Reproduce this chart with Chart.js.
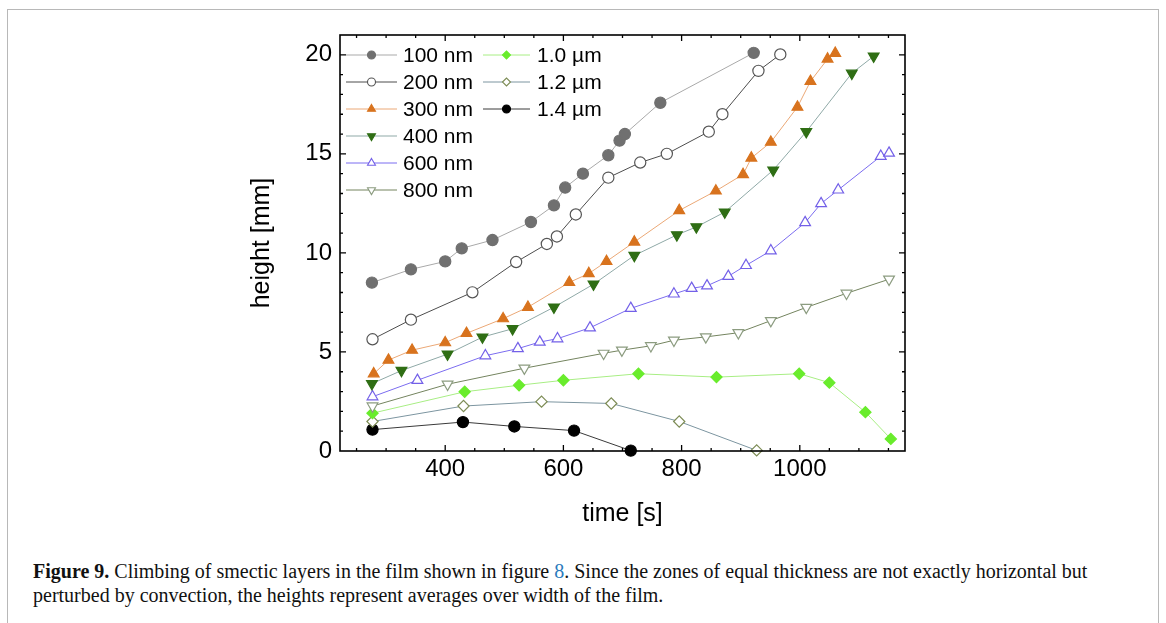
<!DOCTYPE html>
<html>
<head>
<meta charset="utf-8">
<script src="https://cdn.jsdelivr.net/npm/chart.js@4.4.1/dist/chart.umd.min.js"></script>
<style>
  html, body { margin: 0; padding: 0; background: #fff; }
  body { width: 1166px; height: 623px; position: relative; overflow: hidden; }
  #frame { position: absolute; left: 7px; top: 9px; width: 1150px; height: 640px; border: 1px solid #b8b8b8; }
  #chart { position: absolute; left: 0; top: 0; }
  #caption { position: absolute; left: 33px; top: 559px; font-family: "Liberation Serif", "DejaVu Serif", serif;
             font-size: 20px; line-height: 24px; color: #111; white-space: nowrap; }
  #caption b { font-weight: bold; }
  #caption .ref { color: #2b7bbd; }
</style>
</head>
<body>
<div id="frame"></div>
<canvas id="chart" width="1166" height="540"></canvas>
<div id="caption"><b>Figure 9.</b> Climbing of smectic layers in the film shown in figure <span class="ref">8</span>. Since the zones of equal thickness are not exactly horizontal but<br>perturbed by convection, the heights represent averages over width of the film.</div>
<script>
// values
const xTicks = [400, 600, 800, 1000];
const yTicks = [0, 5, 10, 15, 20];
const seriesNames = ['100 nm', '200 nm', '300 nm', '400 nm', '600 nm', '800 nm', '1.0 µm', '1.2 µm', '1.4 µm'];

const t100 = [276, 342, 400, 428, 480, 545, 584, 603, 633, 676, 695, 704, 764, 922];
const h100 = [8.5, 9.17, 9.57, 10.23, 10.65, 11.56, 12.4, 13.3, 14.0, 14.93, 15.67, 16.0, 17.58, 20.1];
const t200 = [277, 342, 446, 520, 572, 589, 621, 676, 730, 775, 846, 869, 930, 967];
const h200 = [5.64, 6.63, 8.01, 9.54, 10.45, 10.83, 11.94, 13.8, 14.56, 15.0, 16.12, 17.0, 19.19, 20.02];
const t300 = [279, 304, 344, 400, 436, 498, 540, 610, 643, 673, 720, 796, 858, 904, 918, 951, 996, 1018, 1047, 1060];
const h300 = [3.9, 4.59, 5.09, 5.47, 5.94, 6.68, 7.26, 8.51, 8.96, 9.57, 10.55, 12.14, 13.13, 13.96, 14.79, 15.59, 17.36, 18.66, 19.79, 20.08];
const t400 = [276, 326, 404, 463, 514, 584, 651, 720, 792, 825, 873, 955, 1011, 1088, 1125];
const h400 = [3.4, 4.06, 4.89, 5.75, 6.17, 7.26, 8.42, 9.87, 10.91, 11.31, 12.06, 14.18, 16.12, 19.07, 19.93];
const t600 = [277, 353, 468, 523, 560, 590, 645, 714, 787, 817, 843, 879, 909, 951, 1009, 1036, 1065, 1137, 1151];
const h600 = [2.74, 3.57, 4.81, 5.17, 5.5, 5.67, 6.22, 7.2, 7.93, 8.21, 8.34, 8.82, 9.37, 10.11, 11.53, 12.49, 13.18, 14.88, 15.04];
const t800 = [277, 404, 534, 668, 699, 748, 787, 841, 896, 951, 1011, 1079, 1151];
const h800 = [2.27, 3.37, 4.18, 4.93, 5.09, 5.31, 5.59, 5.76, 5.97, 6.58, 7.25, 7.96, 8.67];
const t1000 = [277, 433, 525, 600, 727, 859, 999, 1050, 1111, 1154];
const h1000 = [1.91, 2.99, 3.32, 3.57, 3.9, 3.73, 3.9, 3.45, 1.96, 0.61];
const t1200 = [277, 431, 563, 681, 796, 927];
const h1200 = [1.49, 2.27, 2.49, 2.4, 1.49, 0.03];
const t1400 = [277, 430, 517, 618, 714];
const h1400 = [1.08, 1.46, 1.24, 1.03, 0.02];

const pts = (t, h) => t.map((x, i) => ({x: x, y: h[i]}));

// line colour, marker edge, marker fill, style, rotation
function series(label, data, line, edge, fill, style, rot) {
    return {
        label: label,
        data: data,
        showLine: true,
        borderColor: line,
        borderWidth: 1,
        pointStyle: style,
        pointRotation: rot || 0,
        pointRadius: style === 'triangle' ? 6.2 : 5.6,
        pointHoverRadius: 5.6,
        pointBackgroundColor: fill,
        pointBorderColor: edge,
        pointBorderWidth: 1.2,
        clip: false
    };
}

const datasets = [
    series(seriesNames[0], pts(t100, h100), '#a9a9a9', '#707070', '#707070', 'circle'),
    series(seriesNames[1], pts(t200, h200), '#4d4d4d', '#555555', '#ffffff', 'circle'),
    series(seriesNames[2], pts(t300, h300), '#eba876', '#d8731e', '#d8731e', 'triangle'),
    series(seriesNames[3], pts(t400, h400), '#8fa9a7', '#2f6e14', '#2f6e14', 'triangle', 180),
    series(seriesNames[4], pts(t600, h600), '#7b6cf0', '#7360e8', '#ffffff', 'triangle'),
    series(seriesNames[5], pts(t800, h800), '#74845f', '#8c9c80', '#ffffff', 'triangle', 180),
    series(seriesNames[6], pts(t1000, h1000), '#a8ee84', '#69ec2c', '#69ec2c', 'rectRot'),
    series(seriesNames[7], pts(t1200, h1200), '#7c95a0', '#7d8c55', '#ffffff', 'rectRot'),
    series(seriesNames[8], pts(t1400, h1400), '#3a3a3a', '#000000', '#000000', 'circle')
];

// frame with inward major/minor ticks on all four sides
const framePlugin = {
    id: 'frame',
    afterDatasetsDraw(chart) {
        const {ctx, chartArea: a, scales: {x, y}} = chart;
        ctx.save();
        ctx.strokeStyle = '#000';
        ctx.lineWidth = 1.6;
        ctx.strokeRect(a.left, a.top, a.right - a.left, a.bottom - a.top);
        ctx.lineWidth = 1.3;
        ctx.beginPath();
        for (let v = 250; v <= 1150; v += 50) {
            const px = x.getPixelForValue(v);
            const len = v % 200 === 0 ? 6 : 3;
            ctx.moveTo(px, a.bottom); ctx.lineTo(px, a.bottom - len);
            ctx.moveTo(px, a.top); ctx.lineTo(px, a.top + len);
        }
        for (let v = 1; v <= 20; v += 1) {
            const py = y.getPixelForValue(v);
            const len = v % 5 === 0 ? 6 : 3;
            ctx.moveTo(a.left, py); ctx.lineTo(a.left + len, py);
            ctx.moveTo(a.right, py); ctx.lineTo(a.right - len, py);
        }
        ctx.stroke();
        ctx.restore();
    }
};

// legend drawn inside the plot, two columns
const legendPlugin = {
    id: 'insideLegend',
    afterDraw(chart) {
        const ctx = chart.ctx;
        const cols = [{x1: 346, x2: 397, tx: 403}, {x1: 483, x2: 530, tx: 537}];
        ctx.save();
        ctx.font = '21px "Liberation Sans", Arial, sans-serif';
        ctx.textBaseline = 'middle';
        chart.data.datasets.forEach((ds, i) => {
            const col = cols[i < 6 ? 0 : 1];
            const row = i < 6 ? i : i - 6;
            const yy = 55 + row * 27;
            ctx.strokeStyle = ds.borderColor;
            ctx.lineWidth = 1;
            ctx.beginPath();
            ctx.moveTo(col.x1, yy); ctx.lineTo(col.x2, yy);
            ctx.stroke();
            const mx = (col.x1 + col.x2) / 2;
            ctx.fillStyle = ds.pointBackgroundColor;
            ctx.strokeStyle = ds.pointBorderColor;
            ctx.lineWidth = 1.1;
            Chart.helpers.drawPoint(ctx, {
                pointStyle: ds.pointStyle,
                rotation: ds.pointRotation,
                radius: ds.pointStyle === 'triangle' ? 4.6 : 4,
                borderWidth: 1.1
            }, mx, yy);
            ctx.fillStyle = '#000';
            ctx.fillText(ds.label, col.tx, yy + 1);
        });
        ctx.restore();
    }
};

const tickFont = {family: '"Liberation Sans", Arial, sans-serif', size: 24};
const titleFont = {family: '"Liberation Sans", Arial, sans-serif', size: 25};

new Chart(document.getElementById('chart'), {
    type: 'scatter',
    data: {datasets: datasets},
    options: {
        responsive: false,
        animation: false,
        devicePixelRatio: 1,
        layout: {padding: {left: 247, top: 35, right: 261, bottom: 11}},
        plugins: {legend: {display: false}, tooltip: {enabled: false}},
        scales: {
            x: {
                type: 'linear', min: 222, max: 1178,
                afterBuildTicks: s => { s.ticks = xTicks.map(v => ({value: v})); },
                afterFit: s => { s.height = 78; },
                grid: {display: false, drawTicks: false},
                border: {display: false},
                ticks: {color: '#000', font: tickFont, padding: 4, callback: v => String(v)},
                title: {display: true, text: 'time [s]', color: '#000', font: titleFont, padding: 0}
            },
            y: {
                type: 'linear', min: 0, max: 21,
                afterBuildTicks: s => { s.ticks = yTicks.map(v => ({value: v})); },
                afterFit: s => { s.width = 93; },
                grid: {display: false, drawTicks: false},
                border: {display: false},
                ticks: {color: '#000', font: tickFont, padding: 8, callback: v => String(v)},
                title: {display: true, text: 'height [mm]', color: '#000', font: titleFont, padding: 0}
            }
        }
    },
    plugins: [framePlugin, legendPlugin]
});
</script>
</body>
</html>
